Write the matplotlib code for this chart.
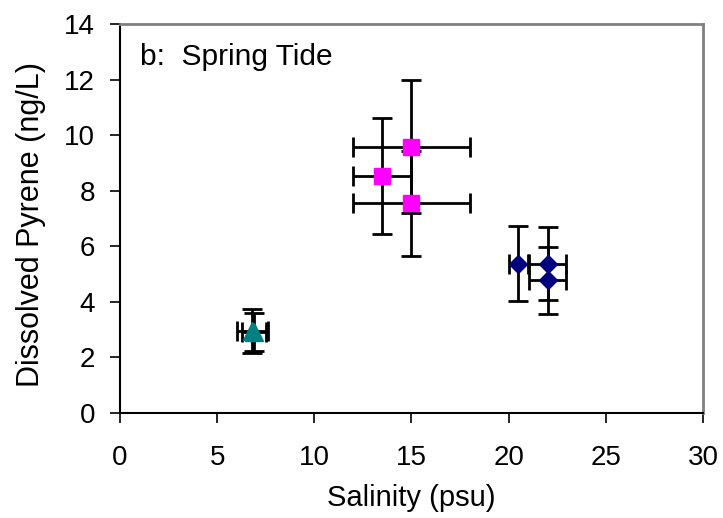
import matplotlib
matplotlib.use("Agg")
import matplotlib.pyplot as plt

plt.rcParams['font.family'] = ['Liberation Sans', 'DejaVu Sans']

# Triangles (teal)
tri_x = [6.8, 6.9]
tri_y = [2.95, 2.92]
tri_xerr = [0.8, 0.6]
tri_yerr = [0.8, 0.68]

# Squares (magenta)
sq_x = [15.0, 13.5, 15.0]
sq_y = [9.58, 8.53, 7.54]
sq_xerr = [3.0, 1.5, 3.0]
sq_yerr = [2.4, 2.1, 1.9]

# Diamonds (navy)
dia_x = [20.5, 22.0, 22.0]
dia_y = [5.38, 5.38, 4.77]
dia_xerr = [0.5, 0.95, 0.95]
dia_yerr = [1.35, 1.32, 1.2]

xticks = [0, 5, 10, 15, 20, 25, 30]
yticks = [0, 2, 4, 6, 8, 10, 12, 14]

fig = plt.figure(figsize=(7.23, 5.18), dpi=100)
ax = fig.add_axes([0.166, 0.2027, 0.9723 - 0.166, 0.9537 - 0.2027])

eb = dict(fmt='none', ecolor='black', elinewidth=2.0, capsize=7, capthick=2.0, zorder=2)
ax.errorbar(tri_x, tri_y, xerr=tri_xerr, yerr=tri_yerr, **eb)
ax.errorbar(sq_x, sq_y, xerr=sq_xerr, yerr=sq_yerr, **eb)
ax.errorbar(dia_x, dia_y, xerr=dia_xerr, yerr=dia_yerr, **eb)

ax.plot(tri_x, tri_y, linestyle='none', marker='^', markersize=13, color='#008080', zorder=3)
ax.plot(sq_x, sq_y, linestyle='none', marker='s', markersize=12, color='#FF00FF', zorder=3)
ax.plot(dia_x, dia_y, linestyle='none', marker='D', markersize=9, color='#000080', zorder=3)

ax.set_xlim(0, 30)
ax.set_ylim(0, 14)
ax.set_xticks(xticks)
ax.set_yticks(yticks)
ax.tick_params(axis='both', direction='out', length=7, width=1.2, labelsize=20, colors='black')
ax.tick_params(axis='x', pad=16)
ax.tick_params(axis='y', pad=11)

for s in ['left', 'bottom']:
    ax.spines[s].set_color('black')
    ax.spines[s].set_linewidth(1.5)
for s in ['top', 'right']:
    ax.spines[s].set_color('#808080')
    ax.spines[s].set_linewidth(2)

ax.set_xlabel('Salinity (psu)', fontsize=21)
ax.set_ylabel('Dissolved Pyrene (ng/L)', fontsize=22)
ax.xaxis.set_label_coords(0.5, -0.182)
ax.yaxis.set_label_coords(-0.127, 0.485)

ax.text(1.03, 12.52, 'b:  Spring Tide', fontsize=21.5, va='baseline', ha='left')

fig.savefig('out.png', dpi=100)
